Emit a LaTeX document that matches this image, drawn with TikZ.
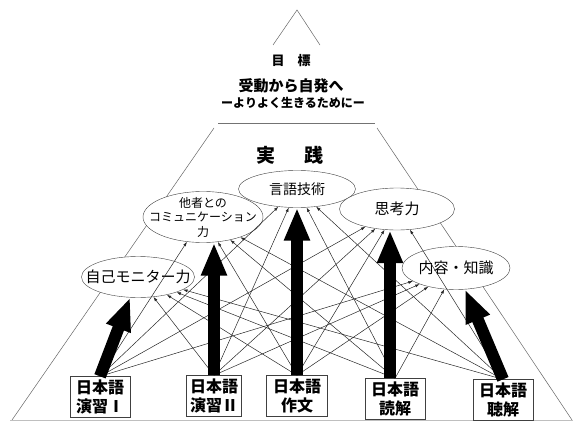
\documentclass[tikz,border=0pt]{standalone}
\usepackage{fontspec}
\setmainfont{Noto Sans CJK JP}
\usetikzlibrary{arrows.meta,shapes.geometric}

\begin{document}
\begin{tikzpicture}[x=1pt,y=-1pt,
  side/.style={draw=black!60,line width=0.5pt},
  goal/.style={ellipse,draw=black!75,fill=white,inner sep=0pt},
  goaltext/.style={font=\fontsize{15}{17}\selectfont,align=center},
  course/.style={rectangle,draw=black!75,fill=white,align=center,
    font=\bfseries\fontsize{16}{19}\selectfont,minimum height=39pt},
  bigarrow/.style={line width=12pt,-{Triangle[length=33pt,width=24pt]}},
  thinarrow/.style={draw=black!85,line width=0.5pt,-{Latex[length=4.5pt,width=3pt]}}]
\useasboundingbox (0,0) rectangle (573,423);

% triangle
\draw[side] (273,45) -- (297,10) -- (320,45);
\draw[side,line width=1pt,draw=black!55] (218,123) -- (375,123);
\draw[side] (214,128) -- (12,420);
\draw[side] (377,128) -- (572,420);
\draw[draw=black!25,line width=1pt] (10,420) -- (573,420);

% headings
\node[font=\bfseries\fontsize{13}{15}\selectfont] (mokuhyo) at (291,61) {目　標};
\node[font=\bfseries\fontsize{15}{17}\selectfont] (judo) at (291,86) {受動から自発へ};
\node[font=\bfseries\fontsize{12}{14}\selectfont] (yoriyoku) at (293,103) {ーよりよく生きるためにー};
\node[font=\bfseries\fontsize{19}{21}\selectfont] (jissen) at (290,155) {実\hspace{1.5em}践};

% goals
\node[goal,minimum width=113pt,minimum height=41pt,
  label={[goaltext]center:自己モニター力}] (e1) at (138,277) {};
\node[goal,minimum width=120pt,minimum height=51pt,
  label={[goaltext,font=\fontsize{12}{14.5}\selectfont]center:他者との\\コミュニケーション\\力}] (e2) at (203,217) {};
\node[goal,minimum width=117pt,minimum height=37pt,
  label={[goaltext,font=\fontsize{14}{16}\selectfont]center:言語技術}] (e3) at (297,189) {};
\node[goal,minimum width=115pt,minimum height=42pt,
  label={[goaltext]center:思考力}] (e4) at (397,209) {};
\node[goal,minimum width=108pt,minimum height=43pt,
  label={[goaltext]center:内容・知識}] (e5) at (456,268) {};

% courses
\node[course,minimum width=60pt] (b1) at (100,397) {日本語\\演習Ⅰ};
\node[course,minimum width=52pt] (b2) at (214,396) {日本語\\演習Ⅱ};
\node[course,minimum width=61pt] (b3) at (297,396) {日本語\\作文};
\node[course,minimum width=60pt] (b4) at (395,399) {日本語\\読解};
\node[course,minimum width=60pt] (b5) at (503,400) {日本語\\聴解};

% every course feeds every goal
\foreach \b/\e in {b1/e2,b1/e3,b1/e4,b1/e5,
                   b2/e1,b2/e3,b2/e4,b2/e5,
                   b3/e1,b3/e2,b3/e4,b3/e5,
                   b4/e1,b4/e2,b4/e3,b4/e5,
                   b5/e1,b5/e2,b5/e3,b5/e4}
  \draw[thinarrow] (\b.north) -- (\e);

% main links
\draw[bigarrow] (b1.north) -- (e1);
\draw[bigarrow] (b2.north) -- (b2.north |- e2.south);
\draw[bigarrow] (b3.north) -- (e3.south);
\draw[bigarrow] ([xshift=-5pt]b4.north) -- ([xshift=-5pt]b4.north |- e4.south);
\draw[bigarrow] (b5.north) -- (e5);
\end{tikzpicture}
\end{document}
